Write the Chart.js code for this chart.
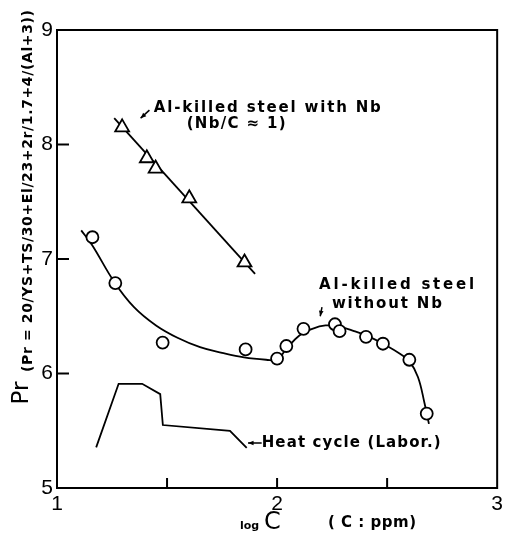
<!DOCTYPE html>
<html>
<head>
<meta charset="utf-8">
<script src="https://cdn.jsdelivr.net/npm/chart.js@4/dist/chart.umd.min.js"></script>
<style>
  body { margin: 0; background: #fff; }
  #wrap { width: 507px; height: 536px; }
</style>
</head>
<body>
<div id="wrap"><canvas id="myChart" width="507" height="536"></canvas></div>
<script>
// Al-killed steel with Nb (triangulos)
const nbX = [1.296, 1.408, 1.448, 1.601, 1.852];
const nbY = [8.15, 7.88, 7.79, 7.53, 6.97];
// recta ajustada a los triangulos
const nbFitX = [1.26, 1.90];
const nbFitY = [8.23, 6.87];

// Al-killed steel without Nb (circulos)
const sinNbX = [1.161, 1.265, 1.48, 1.857, 2.0, 2.042, 2.12, 2.263, 2.284, 2.404, 2.481, 2.601, 2.68];
const sinNbY = [7.19, 6.79, 6.27, 6.21, 6.13, 6.24, 6.39, 6.43, 6.37, 6.32, 6.26, 6.12, 5.65];
// curva a mano que pasa por los circulos
const curvaX = [1.11, 1.16, 1.26, 1.35, 1.45, 1.55, 1.65, 1.75, 1.85, 1.95, 2.0, 2.04, 2.1, 2.16, 2.22, 2.28, 2.35, 2.42, 2.5, 2.56, 2.6, 2.64, 2.67, 2.69];
const curvaY = [7.25, 7.12, 6.80, 6.58, 6.42, 6.31, 6.23, 6.18, 6.14, 6.12, 6.12, 6.21, 6.33, 6.39, 6.42, 6.41, 6.37, 6.32, 6.24, 6.17, 6.11, 5.97, 5.74, 5.56];

// Heat cycle (Labor.)
const heatX = [1.178, 1.28, 1.387, 1.469, 1.481, 1.786, 1.862];
const heatY = [5.355, 5.91, 5.91, 5.82, 5.55, 5.50, 5.35];

// ejes
const xTicks = [1, 1.5, 2, 2.5, 3];
const yTicks = [5, 6, 7, 8, 9];

function puntos(xs, ys) {
    return xs.map((x, i) => ({ x: x, y: ys[i] }));
}

// texto con espaciado para llegar a un ancho dado
function texto(ctx, str, x, y, font, ancho) {
    ctx.font = font;
    ctx.letterSpacing = '0px';
    let w0 = ctx.measureText(str).width;
    let ls = ancho ? (ancho - w0) / (str.length - 1) : 0;
    ctx.letterSpacing = ls + 'px';
    ctx.fillText(str, x, y);
    ctx.letterSpacing = '0px';
}

function flecha(ctx, x1, y1, x2, y2) {
    ctx.beginPath();
    ctx.moveTo(x1, y1);
    ctx.lineTo(x2, y2);
    ctx.stroke();
    let a = Math.atan2(y2 - y1, x2 - x1);
    ctx.beginPath();
    ctx.moveTo(x2, y2);
    ctx.lineTo(x2 - 6 * Math.cos(a - 0.4), y2 - 6 * Math.sin(a - 0.4));
    ctx.lineTo(x2 - 6 * Math.cos(a + 0.4), y2 - 6 * Math.sin(a + 0.4));
    ctx.closePath();
    ctx.fill();
}

const marco = {
    id: 'marco',
    afterDraw(chart) {
        const ctx = chart.ctx;
        const a = chart.chartArea;
        const sx = chart.scales.x;
        const sy = chart.scales.y;
        ctx.save();
        ctx.strokeStyle = '#000';
        ctx.fillStyle = '#000';
        ctx.lineWidth = 2;
        ctx.strokeRect(a.left, a.top, a.right - a.left, a.bottom - a.top);

        // ticks hacia dentro
        ctx.lineWidth = 2;
        yTicks.slice(1, -1).forEach(v => {
            let py = sy.getPixelForValue(v);
            ctx.beginPath();
            ctx.moveTo(a.left, py);
            ctx.lineTo(a.left + 12, py);
            ctx.stroke();
        });
        xTicks.slice(1, -1).forEach(v => {
            let px = sx.getPixelForValue(v);
            ctx.beginPath();
            ctx.moveTo(px, a.bottom);
            ctx.lineTo(px, a.bottom - 10);
            ctx.stroke();
        });

        // anotaciones
        ctx.textBaseline = 'middle';
        ctx.textAlign = 'left';
        const f = 'bold 15px "DejaVu Sans"';
        texto(ctx, 'Al-killed steel with Nb', sx.getPixelForValue(1.44), sy.getPixelForValue(8.32), f, 227);
        texto(ctx, '(Nb/C ≈ 1)', sx.getPixelForValue(1.589), sy.getPixelForValue(8.18), f, 99);
        texto(ctx, 'Al-killed steel', sx.getPixelForValue(2.191), sy.getPixelForValue(6.77), f, 155);
        texto(ctx, 'without Nb', sx.getPixelForValue(2.249), sy.getPixelForValue(6.61), f, 110);
        texto(ctx, 'Heat cycle (Labor.)', sx.getPixelForValue(1.93), sy.getPixelForValue(5.393), f, 179);

        ctx.lineWidth = 1.5;
        flecha(ctx, sx.getPixelForValue(1.42), sy.getPixelForValue(8.30), sx.getPixelForValue(1.38), sy.getPixelForValue(8.23));
        flecha(ctx, sx.getPixelForValue(2.204), sy.getPixelForValue(6.58), sx.getPixelForValue(2.196), sy.getPixelForValue(6.50));
        flecha(ctx, sx.getPixelForValue(1.93), sy.getPixelForValue(5.393), sx.getPixelForValue(1.868), sy.getPixelForValue(5.393));

        // titulo eje y (girado)
        ctx.save();
        ctx.translate(22, 393);
        ctx.rotate(-Math.PI / 2);
        ctx.textAlign = 'center';
        ctx.font = '23px "DejaVu Sans"';
        ctx.fillText('Pr', 0, 0);
        ctx.restore();
        ctx.save();
        ctx.translate(28, 191);
        ctx.rotate(-Math.PI / 2);
        ctx.textAlign = 'left';
        texto(ctx, '(Pr = 20/YS+TS/30+El/23+2r/1.7+4/(Al+3))', -181, 0, 'bold 14px "DejaVu Sans"', 362);
        ctx.restore();

        // titulo eje x
        ctx.textAlign = 'left';
        ctx.font = 'bold 11px "DejaVu Sans"';
        ctx.fillText('log', 240, 526);
        ctx.font = '24px "DejaVu Sans"';
        ctx.fillText('C', 264, 523);
        texto(ctx, '( C : ppm)', 328, 523, 'bold 15px "DejaVu Sans"', 88);
        ctx.restore();
    }
};

const ctx = document.getElementById('myChart').getContext('2d');
const chart = new Chart(ctx, {
    type: 'scatter',
    data: {
        datasets: [
            {
                label: 'Al-killed steel with Nb fit',
                data: puntos(nbFitX, nbFitY),
                showLine: true,
                borderColor: '#000',
                borderWidth: 1.8,
                pointRadius: 0,
                order: 2
            },
            {
                label: 'Al-killed steel with Nb',
                data: puntos(nbX, nbY),
                pointStyle: 'triangle',
                pointRadius: 8,
                pointBackgroundColor: '#fff',
                pointBorderColor: '#000',
                pointBorderWidth: 1.8,
                order: 1
            },
            {
                label: 'Al-killed steel without Nb curve',
                data: puntos(curvaX, curvaY),
                showLine: true,
                tension: 0.4,
                borderColor: '#000',
                borderWidth: 1.8,
                pointRadius: 0,
                order: 2
            },
            {
                label: 'Al-killed steel without Nb',
                data: puntos(sinNbX, sinNbY),
                pointStyle: 'circle',
                pointRadius: 6,
                pointBackgroundColor: '#fff',
                pointBorderColor: '#000',
                pointBorderWidth: 1.8,
                order: 1
            },
            {
                label: 'Heat cycle (Labor.)',
                data: puntos(heatX, heatY),
                showLine: true,
                tension: 0,
                borderColor: '#000',
                borderWidth: 1.8,
                pointRadius: 0,
                order: 2
            }
        ]
    },
    options: {
        responsive: false,
        animation: false,
        layout: { padding: { top: 30, right: 5, left: 0, bottom: 0 } },
        plugins: {
            legend: { display: false },
            tooltip: { enabled: false }
        },
        scales: {
            x: {
                type: 'linear',
                min: 1,
                max: 3,
                afterBuildTicks: s => { s.ticks = xTicks.map(v => ({ value: v })); },
                afterFit: s => { s.height = 48; },
                grid: { display: false, drawTicks: false },
                border: { display: false },
                ticks: {
                    autoSkip: false,
                    maxRotation: 0,
                    padding: 4,
                    color: '#000',
                    font: { family: 'Liberation Sans', size: 21 },
                    callback: v => Number.isInteger(v) ? String(v) : ''
                }
            },
            y: {
                min: 5,
                max: 9,
                afterBuildTicks: s => { s.ticks = yTicks.map(v => ({ value: v })); },
                afterFit: s => { s.width = 57; },
                grid: { display: false, drawTicks: false },
                border: { display: false },
                ticks: {
                    padding: 4,
                    color: '#000',
                    font: { family: 'Liberation Sans', size: 21 }
                }
            }
        }
    },
    plugins: [marco]
});
</script>
</body>
</html>
